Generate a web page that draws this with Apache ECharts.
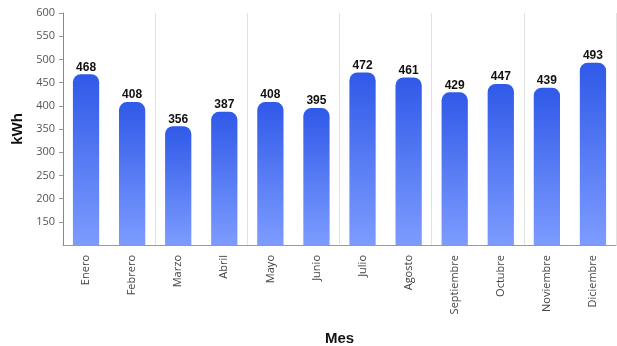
<!DOCTYPE html>
<html>
<head>
<meta charset="utf-8">
<script src="https://cdn.jsdelivr.net/npm/echarts@6/dist/echarts.min.js"></script>
<style>
  html, body { margin: 0; padding: 0; background: #fff; }
  #chart { width: 617px; height: 346px; }
</style>
</head>
<body>
<div id="chart"></div>
<script>
// Monthly energy consumption
const months = ['Enero', 'Febrero', 'Marzo', 'Abril', 'Mayo', 'Junio',
  'Julio', 'Agosto', 'Septiembre', 'Octubre', 'Noviembre', 'Diciembre'];
const consumption = [468, 408, 356, 387, 408, 395, 472, 461, 429, 447, 439, 493];
const yMin = 100, yMax = 600, yStep = 50;

const chart = echarts.init(document.getElementById('chart'), null, { renderer: 'canvas' });
chart.setOption({
  animation: false,
  grid: { left: 63, right: 1, top: 13, bottom: 101, containLabel: false, outerBoundsMode: 'none' },
  xAxis: {
    type: 'category',
    data: months,
    name: 'Mes',
    nameLocation: 'middle',
    nameGap: 86,
    nameTextStyle: { fontFamily: 'Liberation Sans', fontWeight: 'bold', fontSize: 15, color: '#111' },
    axisLine: { lineStyle: { color: '#999' } },
    axisTick: { show: false },
    axisLabel: { rotate: 90, fontFamily: 'Open Sans', fontSize: 11, color: '#444', margin: 10 },
    splitLine: {
      show: true,
      interval: (i) => i > 0 && i % 2 === 0,
      lineStyle: { color: '#e2e2e2', width: 1 }
    }
  },
  yAxis: {
    type: 'value',
    min: yMin, max: yMax, interval: yStep,
    name: 'kWh',
    nameLocation: 'middle',
    nameGap: 38,
    nameTextStyle: { fontFamily: 'Liberation Sans', fontWeight: 'bold', fontSize: 15, color: '#111' },
    axisLine: { show: true, lineStyle: { color: '#888' } },
    axisTick: { show: true, length: 4, lineStyle: { color: '#999' } },
    axisLabel: { showMinLabel: false, fontFamily: 'Open Sans', fontSize: 11, color: '#555', margin: 8 },
    splitLine: { show: false }
  },
  series: [{
    type: 'bar',
    data: consumption,
    barWidth: '57%',
    itemStyle: {
      borderRadius: [8, 8, 0, 0],
      color: new echarts.graphic.LinearGradient(0, 0, 0, 1, [
        { offset: 0, color: '#2f59e8' },
        { offset: 1, color: '#7d9cff' }
      ])
    },
    label: {
      show: true,
      position: 'top',
      distance: 1,
      fontFamily: 'Liberation Sans',
      fontWeight: 'bold',
      fontSize: 12,
      color: '#111'
    }
  }]
});
</script>
</body>
</html>
